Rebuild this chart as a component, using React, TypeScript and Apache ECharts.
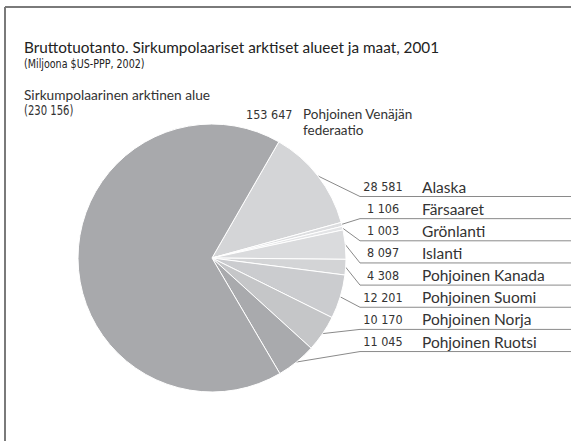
import React, { useEffect, useRef } from 'react';
import * as echarts from 'echarts';

const regions = [
  'Alaska',
  'Färsaaret',
  'Grönlanti',
  'Islanti',
  'Pohjoinen Kanada',
  'Pohjoinen Suomi',
  'Pohjoinen Norja',
  'Pohjoinen Ruotsi',
  'Pohjoinen Venäjän federaatio',
];
const values = [28581, 1106, 1003, 8097, 4308, 12201, 10170, 11045, 153647];
const sliceColors = ['#d4d5d7', '#dddee0', '#e3e4e6', '#dadbdd', '#d3d4d6', '#cbcccf', '#c5c6c8', '#a9aaad', '#a8a9ac'];
const titleText = 'Bruttotuotanto. Sirkumpolaariset arktiset alueet ja maat, 2001';
const subtitleText = '(Miljoona $US-PPP, 2002)';
const totalName = 'Sirkumpolaarinen arktinen alue';
const totalValue = '(230 156)';

const fmt = (v: number) => v.toString().replace(/\B(?=(\d{3})+(?!\d))/g, ' ');

const NAME_FONT = 'Lato, "Open Sans", sans-serif';
const NUM_FONT = '"Liberation Sans Narrow", "DejaVu Sans Condensed", sans-serif';
const RUSSIA = regions.length - 1;

export default function App() {
  const ref = useRef<HTMLDivElement>(null);
  useEffect(() => {
    document.body.style.margin = '0';
    const chart = echarts.init(ref.current!, undefined, { renderer: 'svg' });
    const option: any = {
      animation: false,
      backgroundColor: '#ffffff',
      graphic: [
        { type: 'line', shape: { x1: 5, y1: 7, x2: 571, y2: 7 }, style: { stroke: '#7a7a7a', lineWidth: 2 } },
        { type: 'line', shape: { x1: 5, y1: 7, x2: 5, y2: 441 }, style: { stroke: '#7a7a7a', lineWidth: 2 } },
        { type: 'text', x: 24, y: 47, style: { text: titleText, fontSize: 15.3, fontFamily: NAME_FONT, fill: '#222', verticalAlign: 'middle' } },
        { type: 'text', x: 24, y: 64, scaleX: 0.85, style: { text: subtitleText, fontSize: 12.5, fontFamily: NUM_FONT, fill: '#222', verticalAlign: 'middle' } },
        { type: 'text', x: 24, y: 94, style: { text: totalName, fontSize: 13.7, fontFamily: NAME_FONT, fill: '#333', verticalAlign: 'middle' } },
        { type: 'text', x: 24, y: 110, scaleX: 0.8, style: { text: totalValue, fontSize: 14, fontFamily: NUM_FONT, fill: '#333', verticalAlign: 'middle' } },
      ],
      series: [
        {
          type: 'pie',
          center: [212, 258],
          radius: 134,
          startAngle: 60.1,
          clockwise: true,
          avoidLabelOverlap: false,
          itemStyle: { borderColor: '#ffffff', borderWidth: 1 },
          label: {
            show: true,
            position: 'outside',
            color: '#333',
            formatter: (p: any) => {
              if (p.dataIndex === RUSSIA) {
                return `{rnum|${fmt(p.value)}}{rname|Pohjoinen Venäjän}\n{pad|}{rname|federaatio}`;
              }
              return `{num|${fmt(p.value)}}{name|${p.name}}`;
            },
            rich: {
              num: { fontSize: 12.5, fontFamily: NUM_FONT, width: 54, align: 'right', color: '#333' },
              name: { fontSize: 15.5, fontFamily: NAME_FONT, padding: [0, 0, 0, 12], color: '#333' },
              rnum: { fontSize: 12.5, fontFamily: NUM_FONT, width: 57, align: 'left', color: '#333', lineHeight: 16 },
              pad: { width: 57, lineHeight: 16 },
              rname: { fontSize: 13.5, fontFamily: NAME_FONT, color: '#333', lineHeight: 16 },
            },
          },
          labelLine: { show: true, lineStyle: { color: '#8a8a8a', width: 1 } },
          labelLayout: (p: any) => {
            const i = p.dataIndex;
            if (i === RUSSIA) {
              return { x: 246, y: 106, align: 'left', verticalAlign: 'top' };
            }
            const lineY = 196.5 + i * 22.15;
            const start = p.labelLinePoints ? p.labelLinePoints[0] : [212, 258];
            return {
              x: 356,
              y: lineY - 10,
              align: 'left',
              verticalAlign: 'middle',
              labelLinePoints: [start, [360, lineY], [571, lineY]],
            };
          },
          data: regions.map((name, i) => ({
            name,
            value: values[i],
            itemStyle: { color: sliceColors[i] },
            labelLine: i === RUSSIA ? { show: false } : undefined,
          })),
        },
      ],
    };
    chart.setOption(option);
    return () => chart.dispose();
  }, []);
  return <div ref={ref} style={{ width: 571, height: 441 }} />;
}
